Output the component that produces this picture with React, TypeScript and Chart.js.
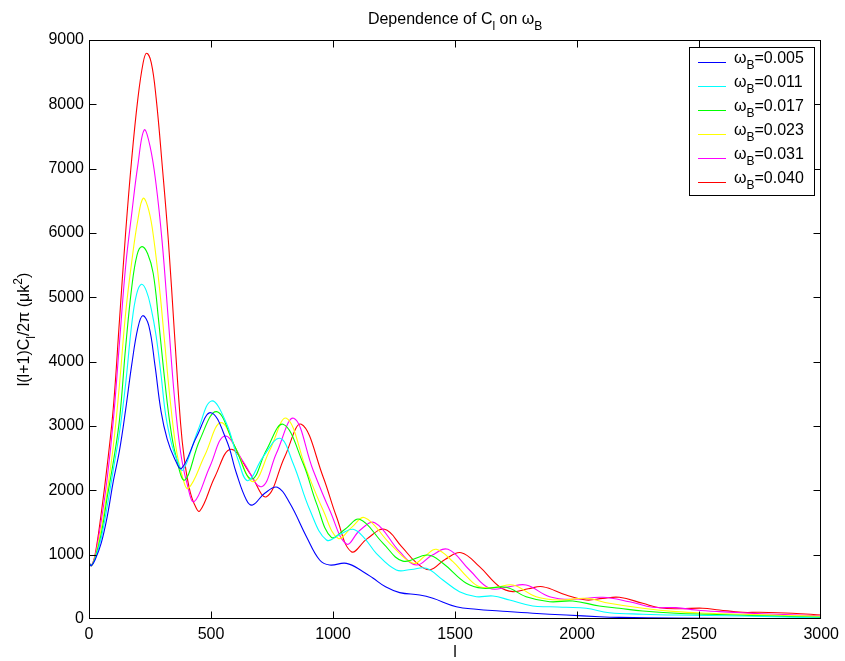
import React, { useEffect, useRef } from "react";
import { Chart, registerables } from "chart.js";

Chart.register(...registerables);

type Pt = [number, number];

// Multipole l versus l(l+1)C_l/2π for six baryon densities ω_B
const omegaValues = ["0.005", "0.011", "0.017", "0.023", "0.031", "0.040"];
const lineColors = ["#0000ff", "#00ffff", "#00ff00", "#ffff00", "#ff00ff", "#ff0000"];

const xTickValues = [0, 500, 1000, 1500, 2000, 2500, 3000];
const yTickValues = [0, 1000, 2000, 3000, 4000, 5000, 6000, 7000, 8000, 9000];

const cl005: Pt[] = [
  [2, 860], [10, 830], [25, 920], [50, 1180], [75, 1600], [100, 2150], [125, 2620], [150, 3250],
  [175, 3950], [200, 4520], [220, 4715], [245, 4560], [270, 3950], [295, 3230], [320, 2800],
  [350, 2500], [379, 2342], [441, 2834], [499, 3207], [563, 2783], [604, 2265], [645, 1850],
  [670, 1772], [720, 1954], [772, 2047], [823, 1798], [891, 1280], [945, 917], [986, 839],
  [1055, 865], [1123, 736], [1163, 637], [1215, 500], [1273, 410], [1355, 373], [1409, 322],
  [1505, 191], [1587, 151], [1682, 124], [1818, 89], [1955, 62], [2091, 36], [2173, 26],
  [2400, 15], [2700, 8], [3000, 4],
];

const cl011: Pt[] = [
  [2, 860], [10, 830], [25, 930], [50, 1260], [75, 1760], [100, 2330], [125, 2900], [150, 3650],
  [175, 4580], [195, 5050], [215, 5203], [235, 5100], [255, 4820], [275, 4400], [295, 3800],
  [315, 3150], [340, 2700], [360, 2480], [385, 2316], [447, 2938], [502, 3389], [563, 3042],
  [611, 2472], [651, 2150], [714, 2523], [782, 2809], [836, 2420], [905, 1694], [973, 1228],
  [1030, 1320], [1082, 1394], [1130, 1250], [1177, 1021], [1259, 762], [1320, 770], [1382, 788],
  [1450, 606], [1518, 425], [1587, 347], [1655, 358], [1723, 295], [1818, 202], [1890, 190],
  [1955, 182], [2037, 166], [2132, 98], [2270, 75], [2405, 62], [2678, 47], [2850, 30], [3000, 16],
];

const cl017: Pt[] = [
  [2, 860], [10, 830], [25, 950], [50, 1320], [75, 1900], [100, 2450], [125, 3100], [150, 4220],
  [175, 5150], [197, 5660], [217, 5788], [240, 5680], [263, 5374], [285, 4650], [305, 3900],
  [330, 3080], [355, 2550], [393, 2160], [454, 2783], [523, 3223], [598, 2679], [666, 2176],
  [727, 2627], [795, 3026], [877, 2420], [932, 1798], [993, 1270], [1050, 1400], [1109, 1550],
  [1205, 1177], [1286, 900], [1389, 995], [1450, 866], [1546, 555], [1614, 477], [1709, 493],
  [1791, 347], [1887, 269], [1982, 280], [2091, 202], [2173, 166], [2269, 124], [2405, 89],
  [2541, 73], [2800, 45], [3000, 26],
];

const cl023: Pt[] = [
  [2, 860], [10, 830], [25, 960], [50, 1400], [75, 2000], [100, 2700], [125, 3650], [150, 4750],
  [175, 5550], [200, 6200], [222, 6540], [245, 6350], [266, 5891], [290, 5100], [310, 4300],
  [330, 3500], [355, 2700], [380, 2250], [407, 2031], [475, 2549], [540, 3052], [604, 2627],
  [673, 2135], [741, 2627], [809, 3119], [891, 2316], [959, 1694], [1020, 1254], [1075, 1420],
  [1130, 1575], [1232, 1177], [1328, 865], [1380, 990], [1423, 1083], [1491, 891], [1550, 650],
  [1600, 502], [1669, 493], [1737, 529], [1832, 347], [1928, 295], [2037, 322], [2132, 244],
  [2269, 166], [2405, 114], [2541, 89], [2678, 73], [2850, 55], [3000, 42],
];

const cl031: Pt[] = [
  [2, 860], [10, 830], [25, 980], [50, 1520], [75, 2200], [100, 3100], [125, 4300], [150, 5480],
  [175, 6300], [200, 7050], [226, 7601], [250, 7350], [275, 6750], [300, 5850], [325, 4650],
  [350, 3450], [375, 2600], [400, 2130], [431, 1824], [495, 2368], [557, 2845], [632, 2445],
  [707, 2057], [768, 2576], [839, 3119], [918, 2316], [986, 1694], [1055, 1166], [1110, 1380],
  [1171, 1497], [1273, 1046], [1341, 839], [1405, 990], [1471, 1083], [1559, 762], [1641, 477],
  [1720, 500], [1791, 529], [1887, 347], [1982, 306], [2105, 337], [2214, 269], [2310, 182],
  [2405, 177], [2487, 140], [2583, 114], [2700, 92], [2814, 73], [3000, 50],
];

const cl040: Pt[] = [
  [2, 860], [10, 830], [25, 1000], [50, 1640], [75, 2400], [100, 3300], [125, 4650], [150, 6000],
  [175, 7150], [200, 8080], [222, 8650], [236, 8794], [255, 8650], [275, 8100], [300, 7050],
  [325, 5891], [350, 4450], [375, 3050], [390, 2500], [410, 2050], [430, 1800], [454, 1679],
  [516, 2212], [581, 2638], [659, 2265], [727, 1901], [802, 2523], [870, 3026], [959, 2212],
  [1014, 1590], [1075, 1046], [1140, 1250], [1211, 1394], [1280, 1130], [1340, 880], [1396, 765],
  [1460, 930], [1525, 1031], [1600, 813], [1682, 502], [1737, 425], [1800, 470], [1859, 502],
  [1955, 373], [2037, 295], [2105, 320], [2173, 337], [2269, 244], [2337, 175], [2420, 160],
  [2514, 168], [2583, 140], [2678, 104], [2746, 104], [2882, 89], [3000, 62],
];

const spectra: Pt[][] = [cl005, cl011, cl017, cl023, cl031, cl040];

const FONT = "'Liberation Sans', Arial, Helvetica, sans-serif";
const FONT_SIZE = 16;

type Run = { text: string; shift?: "sub" | "sup" };

function runFont(run: Run, size: number) {
  const s = run.shift ? Math.round(size * 0.72) : size;
  return `${s}px ${FONT}`;
}

function runsWidth(ctx: CanvasRenderingContext2D, runs: Run[], size: number) {
  let w = 0;
  for (const r of runs) {
    ctx.font = runFont(r, size);
    w += ctx.measureText(r.text).width;
  }
  return w;
}

function drawRuns(
  ctx: CanvasRenderingContext2D,
  runs: Run[],
  x: number,
  y: number,
  size: number,
  align: "left" | "center"
) {
  const total = runsWidth(ctx, runs, size);
  let cx = align === "center" ? x - total / 2 : x;
  ctx.textAlign = "left";
  ctx.textBaseline = "alphabetic";
  for (const r of runs) {
    ctx.font = runFont(r, size);
    const dy = r.shift === "sub" ? size * 0.36 : r.shift === "sup" ? -size * 0.42 : 0;
    ctx.fillText(r.text, cx, y + dy);
    cx += ctx.measureText(r.text).width;
  }
}

const titleRuns: Run[] = [
  { text: "Dependence of C" },
  { text: "l", shift: "sub" },
  { text: " on \u03c9" },
  { text: "B", shift: "sub" },
];

const yLabelRuns: Run[] = [
  { text: "l(l+1)C" },
  { text: "l", shift: "sub" },
  { text: "/2\u03c0 (\u03bck" },
  { text: "2", shift: "sup" },
  { text: ")" },
];

const xLabelRuns: Run[] = [{ text: "l" }];

const framePlugin = {
  id: "matlabFrame",
  afterDatasetsDraw(chart: any) {
    const ctx: CanvasRenderingContext2D = chart.ctx;
    const { left, right, top, bottom } = chart.chartArea;
    const xs = chart.scales.x;
    const ys = chart.scales.y;
    const tick = 7;
    ctx.save();
    ctx.strokeStyle = "#000";
    ctx.lineWidth = 1;
    const L = Math.round(left) + 0.5;
    const R = Math.round(right) - 0.5;
    const T = Math.round(top) + 0.5;
    const B = Math.round(bottom) - 0.5;
    const clamp = (v: number, lo: number, hi: number) => Math.min(hi, Math.max(lo, v));
    ctx.beginPath();
    for (const v of xTickValues) {
      const px = clamp(Math.round(xs.getPixelForValue(v)) + 0.5, L, R);
      ctx.moveTo(px, B);
      ctx.lineTo(px, B - tick);
      ctx.moveTo(px, T);
      ctx.lineTo(px, T + tick);
    }
    for (const v of yTickValues) {
      const py = clamp(Math.round(ys.getPixelForValue(v)) + 0.5, T, B);
      ctx.moveTo(L, py);
      ctx.lineTo(L + tick, py);
      ctx.moveTo(R, py);
      ctx.lineTo(R - tick, py);
    }
    ctx.stroke();
    ctx.strokeRect(L, T, R - L, B - T);

    // legend box
    const bx = 689.5;
    const by = 47.5;
    const bw = 125;
    const rowH = 24;
    const firstRow = 62;
    const bh = 148;
    ctx.fillStyle = "#fff";
    ctx.fillRect(bx, by, bw, bh);
    ctx.strokeRect(bx, by, bw, bh);
    chart.data.datasets.forEach((ds: any, i: number) => {
      const ly = firstRow + rowH * i + 0.5;
      ctx.strokeStyle = ds.borderColor;
      ctx.beginPath();
      ctx.moveTo(698, ly);
      ctx.lineTo(726, ly);
      ctx.stroke();
      ctx.fillStyle = "#000";
      drawRuns(
        ctx,
        [{ text: "\u03c9" }, { text: "B", shift: "sub" }, { text: "=" + omegaValues[i] }],
        734,
        ly + 0.5,
        FONT_SIZE,
        "left"
      );
    });

    // title and axis labels
    ctx.fillStyle = "#000";
    const cxMid = (left + right) / 2;
    drawRuns(ctx, titleRuns, cxMid, 24, FONT_SIZE, "center");
    drawRuns(ctx, xLabelRuns, cxMid, 657, FONT_SIZE, "center");
    ctx.save();
    ctx.translate(29, (top + bottom) / 2);
    ctx.rotate(-Math.PI / 2);
    drawRuns(ctx, yLabelRuns, 0, 0, FONT_SIZE, "center");
    ctx.restore();
    ctx.restore();
  },
};

export default function App() {
  const canvasRef = useRef<HTMLCanvasElement | null>(null);

  useEffect(() => {
    const canvas = canvasRef.current;
    if (!canvas) return;
    const chart = new Chart(canvas, {
      type: "line",
      data: {
        datasets: spectra.map((pts, i) => ({
          label: "\u03c9B=" + omegaValues[i],
          data: pts.map(([x, y]) => ({ x, y })),
          borderColor: lineColors[i],
          backgroundColor: lineColors[i],
          borderWidth: 1.1,
          pointRadius: 0,
          fill: false,
          tension: 0.4,
        })),
      },
      options: {
        responsive: false,
        animation: false,
        events: [],
        layout: { padding: { left: 0, right: 22, top: 40, bottom: 0 } },
        plugins: {
          legend: { display: false },
          title: { display: false },
          tooltip: { enabled: false },
        },
        scales: {
          x: {
            type: "linear",
            min: 0,
            max: 3000,
            afterBuildTicks: (s: any) => {
              s.ticks = xTickValues.map((v) => ({ value: v }));
            },
            afterFit: (s: any) => {
              s.height = 42;
            },
            grid: { display: false, drawTicks: false },
            border: { display: false },
            ticks: {
              color: "#000",
              font: { family: FONT, size: FONT_SIZE },
              padding: 6,
              maxRotation: 0,
              autoSkip: false,
              callback: (v: any) => String(v),
            },
          },
          y: {
            type: "linear",
            min: 0,
            max: 9000,
            afterBuildTicks: (s: any) => {
              s.ticks = yTickValues.map((v) => ({ value: v }));
            },
            afterFit: (s: any) => {
              s.width = 89;
            },
            grid: { display: false, drawTicks: false },
            border: { display: false },
            ticks: {
              color: "#000",
              font: { family: FONT, size: FONT_SIZE },
              padding: 5,
              autoSkip: false,
              callback: (v: any) => String(v),
            },
          },
        },
      },
      plugins: [framePlugin],
    });
    return () => chart.destroy();
  }, []);

  return (
    <div
      style={{
        position: "fixed",
        left: 0,
        top: 0,
        width: 845,
        height: 661,
        background: "#fff",
      }}
    >
      <canvas ref={canvasRef} width={845} height={661} style={{ display: "block" }} />
    </div>
  );
}
